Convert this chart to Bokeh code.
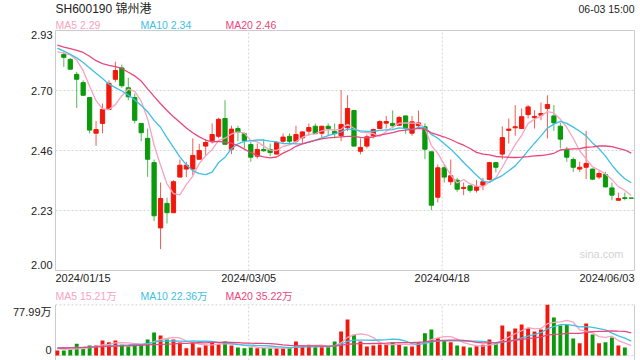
from bokeh.plotting import figure
from bokeh.layouts import column
from bokeh.models import Range1d, Label, ColumnDataSource
from bokeh.embed import file_html
from bokeh.resources import INLINE

# ------------------------------------------------------------------ data
title_code = "SH600190"
title_name = "锦州港"
timestamp = "06-03 15:00"
watermark = "sina.com"

date_labels = ["2024/01/15", "2024/03/05", "2024/04/18", "2024/06/03"]
date_label_days = [0, 30, 60, 89]

price_min, price_max = 2.00, 2.93
price_tick_labels = ["2.00", "2.23", "2.46", "2.70", "2.93"]
vol_max = 77.99
vol_tick_labels = ["0", "77.99万"]

ma_names = ["MA5", "MA10", "MA20"]
ma_windows = [5, 10, 20]
ma_legend_values = ["2.29", "2.34", "2.46"]
vol_ma_legend_values = ["15.21万", "22.36万", "35.22万"]

# day 0 (2024/01/15) candle is not drawn in the reference; only its close is used
opens = [None, 2.837, 2.818, 2.760, 2.728, 2.670, 2.532, 2.570, 2.624, 2.741,
         2.785, 2.708, 2.670, 2.570, 2.512, 2.418, 2.165, 2.260, 2.224, 2.362,
         2.393, 2.393, 2.431, 2.482, 2.503, 2.520, 2.589, 2.470, 2.550, 2.530,
         2.488, 2.443, 2.469, 2.469, 2.451, 2.501, 2.520, 2.501, 2.514, 2.540,
         2.559, 2.532, 2.559, 2.539, 2.522, 2.553, 2.620, 2.462, 2.482, 2.522,
         2.550, 2.571, 2.570, 2.563, 2.599, 2.532, 2.561, 2.557, 2.460, 2.284,
         2.398, 2.344, 2.350, 2.318, 2.328, 2.311, 2.331, 2.353, 2.418, 2.451,
         2.543, 2.553, 2.550, 2.604, 2.592, 2.602, 2.628, 2.599, 2.559, 2.470,
         2.430, 2.393, 2.400, 2.393, 2.362, 2.372, 2.320, 2.272, 2.282, 2.281]
highs = [None, 2.847, 2.824, 2.770, 2.737, 2.670, 2.579, 2.647, 2.737, 2.809,
         2.798, 2.747, 2.686, 2.570, 2.550, 2.430, 2.341, 2.282, 2.350, 2.430,
         2.421, 2.512, 2.491, 2.509, 2.570, 2.592, 2.660, 2.561, 2.561, 2.535,
         2.499, 2.492, 2.509, 2.492, 2.501, 2.531, 2.531, 2.561, 2.540, 2.570,
         2.570, 2.559, 2.570, 2.570, 2.699, 2.679, 2.620, 2.512, 2.527, 2.550,
         2.582, 2.599, 2.620, 2.599, 2.599, 2.599, 2.620, 2.570, 2.460, 2.411,
         2.411, 2.430, 2.359, 2.341, 2.331, 2.350, 2.359, 2.421, 2.421, 2.559,
         2.589, 2.641, 2.628, 2.641, 2.621, 2.651, 2.679, 2.641, 2.572, 2.479,
         2.439, 2.421, 2.541, 2.395, 2.385, 2.382, 2.341, 2.302, 2.302, 2.281]
lows = [None, 2.789, 2.780, 2.630, 2.679, 2.531, 2.483, 2.531, 2.621, 2.731,
        2.708, 2.660, 2.570, 2.501, 2.363, 2.191, 2.083, 2.182, 2.224, 2.362,
        2.362, 2.369, 2.431, 2.443, 2.492, 2.512, 2.489, 2.451, 2.501, 2.473,
        2.421, 2.434, 2.460, 2.443, 2.451, 2.492, 2.486, 2.492, 2.492, 2.522,
        2.530, 2.517, 2.522, 2.512, 2.501, 2.540, 2.482, 2.450, 2.473, 2.512,
        2.550, 2.550, 2.550, 2.561, 2.530, 2.522, 2.550, 2.431, 2.234, 2.264,
        2.341, 2.331, 2.305, 2.292, 2.302, 2.302, 2.311, 2.349, 2.380, 2.431,
        2.492, 2.522, 2.550, 2.589, 2.550, 2.582, 2.512, 2.541, 2.473, 2.421,
        2.382, 2.382, 2.354, 2.350, 2.354, 2.322, 2.272, 2.272, 2.272, 2.280]
closes = [2.845, 2.826, 2.780, 2.741, 2.679, 2.544, 2.546, 2.624, 2.725, 2.775,
          2.716, 2.673, 2.582, 2.534, 2.431, 2.212, 2.279, 2.224, 2.344, 2.408,
          2.408, 2.446, 2.465, 2.496, 2.527, 2.586, 2.489, 2.548, 2.535, 2.503,
          2.439, 2.469, 2.464, 2.457, 2.496, 2.517, 2.501, 2.527, 2.537, 2.554,
          2.530, 2.559, 2.550, 2.530, 2.566, 2.628, 2.482, 2.477, 2.518, 2.546,
          2.577, 2.577, 2.561, 2.593, 2.550, 2.576, 2.572, 2.470, 2.253, 2.398,
          2.362, 2.367, 2.315, 2.322, 2.311, 2.324, 2.344, 2.418, 2.400, 2.515,
          2.548, 2.557, 2.596, 2.634, 2.597, 2.608, 2.643, 2.572, 2.509, 2.439,
          2.400, 2.400, 2.415, 2.354, 2.376, 2.324, 2.292, 2.279, 2.279, 2.280]
volumes = [7.7, 7.7, 8.8, 18.0, 10.3, 15.4, 15.4, 23.0, 20.5, 23.0,
           16.4, 13.8, 16.9, 15.4, 24.6, 35.4, 30.8, 24.6, 24.6, 20.0,
           11.3, 20.0, 12.3, 16.4, 21.5, 17.4, 21.5, 15.4, 12.3, 11.3,
           12.3, 11.3, 11.6, 11.3, 11.0, 11.3, 11.8, 21.5, 15.4, 16.4,
           12.8, 12.8, 12.8, 21.5, 36.9, 55.4, 31.8, 21.5, 13.8, 15.4,
           16.9, 16.9, 20.5, 16.9, 13.8, 13.8, 20.5, 34.3, 40.0, 26.6,
           23.1, 20.5, 15.4, 13.8, 12.3, 14.3, 16.4, 24.6, 18.0, 46.1,
           36.9, 41.5, 47.7, 42.0, 36.9, 40.0, 77.99, 58.4, 46.1, 47.2,
           26.1, 18.9, 49.2, 32.3, 18.9, 20.5, 27.7, 15.4, 12.3, 0.15]

ma_heads = [
    [2.847, 2.842, 2.836, 2.815],
    [2.862, 2.850, 2.838, 2.824, 2.806, 2.785, 2.764, 2.744, 2.722],
    [2.873, 2.866, 2.860, 2.853, 2.845, 2.830, 2.813, 2.802, 2.795, 2.790,
     2.783, 2.768, 2.754, 2.734, 2.704, 2.675, 2.646, 2.620, 2.596],
]
vol_ma_heads = [
    [10.5, 10.0, 9.6, 10.2],
    [11.8, 11.9, 12.0, 12.3, 12.6, 13.0, 13.5, 14.0, 14.6],
    [11.2, 11.5, 11.8, 12.2, 12.5, 12.9, 13.2, 13.6, 14.0, 14.3,
     14.7, 15.0, 15.4, 15.8, 16.2, 16.6, 17.0, 17.4, 17.9],
]

# ------------------------------------------------------------------ style / layout (pixels)
FONT = "Liberation Sans, Noto Sans CJK SC"
RED = "#f0180c"
GREEN = "#0a9a0a"
MA_COLORS = ["#f7a3c1", "#3ec0e4", "#e8467c"]
FRAME = "#cccccc"
GRIDC = "#d4d4d4"
TXT = "#222222"

W = 640
H1, H2 = 290, 70                 # price panel, volume panel
FL, FR = 55, 634                 # frame left / right (px)
P_TOP, P_BOT = 30, 270           # price frame top / bottom (px, inside H1)
V_TOP, V_BOT = 304.3 - H1, 355 - H1   # volume frame top / bottom (px, inside H2)
X0, X1 = -0.29, 89.5             # day range spanned by the frame
GRID_SHIFT = 0.33

SX = (FR - FL) / (X1 - X0)
XL, XR = X0 - FL / SX, X1 + (W - FR) / SX
PY = (price_max - price_min) / (P_BOT - P_TOP)
VY = vol_max / (V_BOT - V_TOP)


def moving_avg(series, n, head):
    out = list(head)
    for i in range(len(head), len(series)):
        out.append(sum(series[i - n + 1:i + 1]) / n)
    return out


days = list(range(len(closes)))
up = [o is None or c >= o for o, c in zip(opens, closes)]


def make_fig(h, y0, y1):
    p = figure(width=W, height=h, x_range=Range1d(XL, XR), y_range=Range1d(y0, y1),
               output_backend="svg", toolbar_location=None,
               x_axis_location=None, y_axis_location=None, min_border=0)
    p.grid.visible = False
    p.outline_line_color = None
    p.background_fill_color = "white"
    p.border_fill_color = "white"
    return p


def txt(p, h, text, x, y, xu="screen", yu="screen", size="11px", color=TXT,
        align="left", baseline="middle", dy=0):
    # screen positions are given as page pixels from the top of the panel
    yy = (h - y) if yu == "screen" else y
    p.add_layout(Label(x=x, y=yy, x_units=xu, y_units=yu, text=text,
                       text_font=FONT, text_font_size=size,
                       text_color=color, text_align=align,
                       text_baseline=baseline, y_offset=dy))


# ------------------------------------------------------------------ price chart
p1 = make_fig(H1, price_min - (H1 - P_BOT) * PY, price_max + P_TOP * PY)

n_ticks = len(price_tick_labels)
tick_vals = [price_min + (price_max - price_min) * k / (n_ticks - 1) for k in range(n_ticks)]
mid_ticks = tick_vals[1:-1]
p1.segment(x0=[X0] * len(mid_ticks), y0=mid_ticks, x1=[X1] * len(mid_ticks), y1=mid_ticks,
           line_color=GRIDC, line_dash="2 2", line_width=1)
grid_x = [d - GRID_SHIFT for d in date_label_days[1:-1]]
p1.segment(x0=grid_x, y0=[price_min] * len(grid_x), x1=grid_x, y1=[price_max] * len(grid_x),
           line_color=GRIDC, line_dash="2 2", line_width=1)
# frame
p1.segment(x0=[X0, X1, X0, X0], y0=[price_min, price_min, price_min, price_max],
           x1=[X0, X1, X1, X1], y1=[price_max, price_max, price_min, price_max],
           line_color=FRAME, line_width=1)

for flag, col in ((True, RED), (False, GREEN)):
    idx = [i for i in days if opens[i] is not None and up[i] == flag]
    s = ColumnDataSource(dict(
        x=idx,
        h=[highs[i] for i in idx],
        l=[lows[i] for i in idx],
        top=[max(opens[i], closes[i]) for i in idx],
        bot=[min(opens[i], closes[i]) for i in idx],
    ))
    p1.segment(x0="x", y0="l", x1="x", y1="h", source=s, line_color=col,
               line_alpha=0.7, line_width=1)
    p1.vbar(x="x", width=0.66, top="top", bottom="bot", source=s,
            fill_color=col, line_color=col, line_width=1)

for n, head, col in zip(ma_windows, ma_heads, MA_COLORS):
    p1.line(days, moving_avg(closes, n, head), line_color=col, line_width=1.3)

for k, (v, lab) in enumerate(zip(tick_vals, price_tick_labels)):
    base = "bottom" if k == 0 else ("top" if k == n_ticks - 1 else "middle")
    txt(p1, H1, lab, FL - 3, v, yu="data", align="right", baseline=base,
        dy=(2 if k == 0 else 0))

txt(p1, H1, f"{title_code} {title_name}", FL, 8, size="12px")
txt(p1, H1, timestamp, FR, 8, size="10.5px", align="right")
legend_x = [FL, 140, 225]
for name, val, col, lx in zip(ma_names, ma_legend_values, MA_COLORS, legend_x):
    txt(p1, H1, f"{name} {val}", lx, 24.5, size="10.5px", color=col)

for k, (d, lab) in enumerate(zip(date_label_days, date_labels)):
    if k == 0:
        txt(p1, H1, lab, X0, 277.5, xu="data", align="left")
    elif k == len(date_labels) - 1:
        txt(p1, H1, lab, X1, 277.5, xu="data", align="right")
    else:
        txt(p1, H1, lab, d - GRID_SHIFT, 277.5, xu="data", align="center")

txt(p1, H1, watermark, 623, 253, size="11px", color="#d3d3d3", align="right",
    baseline="alphabetic")

# ------------------------------------------------------------------ volume chart
p2 = make_fig(H2, -(H2 - V_BOT) * VY, vol_max + V_TOP * VY)
v_bottom = -(H2 - V_BOT) * VY
p2.segment(x0=[X0, X0], y0=[vol_max, 0], x1=[X1, X1], y1=[vol_max, 0],
           line_color=GRIDC, line_dash="2 2", line_width=1)
p2.segment(x0=[X0, X1], y0=[v_bottom, v_bottom], x1=[X0, X1], y1=[vol_max, vol_max],
           line_color=FRAME, line_width=1)
p2.segment(x0=grid_x, y0=[v_bottom] * len(grid_x), x1=grid_x, y1=[vol_max] * len(grid_x),
           line_color=GRIDC, line_dash="2 2", line_width=1)

vs = ColumnDataSource(dict(x=days, v=volumes,
                           c=[RED if u else GREEN for u in up]))
p2.vbar(x="x", width=0.6, top="v", bottom=0, source=vs,
        fill_color="c", line_color=None)
for n, head, col in zip(ma_windows, vol_ma_heads, MA_COLORS):
    p2.line(days, moving_avg(volumes, n, head), line_color=col, line_width=1.3)

for name, val, col, lx in zip(ma_names, vol_ma_legend_values, MA_COLORS, legend_x):
    txt(p2, H2, f"{name} {val}", lx, 295.5 - H1, size="10.5px", color=col)
txt(p2, H2, vol_tick_labels[1], FL - 4, vol_max, yu="data", align="right",
    baseline="top", dy=-1)
txt(p2, H2, vol_tick_labels[0], FL - 4, 0, yu="data", align="right",
    baseline="bottom", dy=1.5)

layout = column(p1, p2, spacing=0)
open("out.html", "w").write(file_html(layout, INLINE))
